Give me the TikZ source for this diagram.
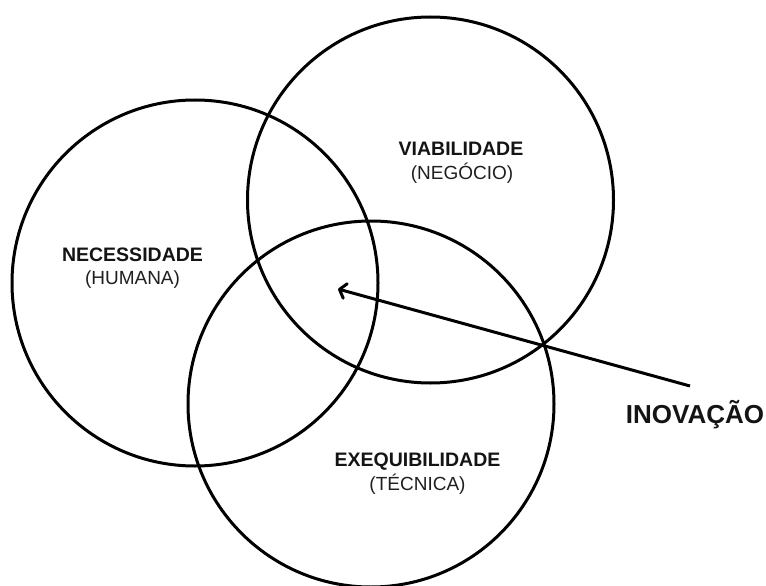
\documentclass[tikz,border=0pt]{standalone}
\usepackage{fontspec}
\setmainfont{Liberation Sans}
\usetikzlibrary{arrows.meta}

\begin{document}
\begin{tikzpicture}[x=1pt,y=-1pt,
  ring/.style={circle,draw=black,line width=3pt,minimum size=366pt,inner sep=0pt},
  head/.style={anchor=base,inner sep=0pt,text=black!92,font=\bfseries\fontsize{19.5}{24}\selectfont},
  sub/.style={anchor=base,inner sep=0pt,text=black!88,font=\fontsize{19}{24}\selectfont},
  pointer/.style={line width=3pt,draw=black,-{Straight Barb[length=6pt,width=15pt,round]}}
]
  \useasboundingbox (0,0) rectangle (766,586);

  % the three overlapping circles
  \node[ring] (nec) at (195,283) {};
  \node[ring] (via) at (430.5,200) {};
  \node[ring] (exe) at (371,404) {};

  % circle labels
  \node[head] (necT) at (132.5,261) {NECESSIDADE};
  \node[sub]  (necS) at (132.5,284) {(HUMANA)};
  \node[head] (viaT) at (461,155) {VIABILIDADE};
  \node[sub]  (viaS) at (462,179) {(NEGÓCIO)};
  \node[head] (exeT) at (417.5,466) {EXEQUIBILIDADE};
  \node[sub]  (exeS) at (417.5,490.5) {(TÉCNICA)};

  % innovation pointer into the common area
  \node[anchor=base,inner sep=0pt,text=black!92,font=\bfseries\fontsize{26}{30}\selectfont] (inov) at (695,423) {INOVAÇÃO};
  \coordinate (tail) at (690,386);
  \coordinate (tip) at (338,289);
  \draw[pointer] (tail) -- (tip);
\end{tikzpicture}
\end{document}
